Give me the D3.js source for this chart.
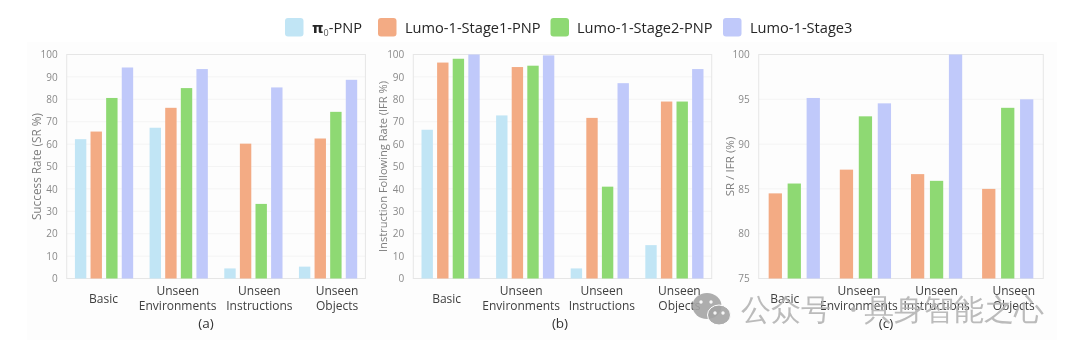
<!DOCTYPE html>
<html>
<head>
<meta charset="utf-8">
<style>
  html, body { margin: 0; padding: 0; background: #fff; }
  svg { display: block; filter: blur(0.35px); }
  text { font-family: "Open Sans", "Noto Sans", sans-serif; }
</style>
<script src="https://cdn.jsdelivr.net/npm/d3@7"></script>
</head>
<body>
<script>
// categories and series names
var categories = ["Basic", "Unseen Environments", "Unseen Instructions", "Unseen Objects"];
var seriesNames = ["pi0", "stage1", "stage2", "stage3"];

// panel (a) success rate
var srPi0 = [62.2, 67.3, 4.5, 5.3];
var srStage1 = [65.6, 76.2, 60.2, 62.5];
var srStage2 = [80.6, 85.0, 33.3, 74.4];
var srStage3 = [94.2, 93.5, 85.3, 88.7];

// panel (b) instruction following rate
var ifrPi0 = [66.4, 72.8, 4.5, 14.9];
var ifrStage1 = [96.4, 94.4, 71.7, 79.0];
var ifrStage2 = [98.1, 95.0, 41.0, 79.0];
var ifrStage3 = [100, 99.6, 87.2, 93.5];

// panel (c) SR / IFR
var ratioStage1 = [84.5, 87.15, 86.65, 85.0];
var ratioStage2 = [85.6, 93.1, 85.9, 94.05];
var ratioStage3 = [95.15, 94.55, 100, 95.0];

var colors = {pi0: "#c1e5f5", stage1: "#f3ab84", stage2: "#8ed973", stage3: "#c0c9fa"};

var width = 1080, height = 353, top_ = 54.5, bottom = 278.5;

var svg = d3.select("body").append("svg")
    .attr("width", width)
    .attr("height", height);

svg.append("rect")
    .attr("x", 27).attr("y", 42)
    .attr("width", 1030).attr("height", 298)
    .attr("fill", "#fdfdfd");

// legend
var legend = [
  {key: "pi0", swatch: 285, text: 312},
  {key: "stage1", swatch: 378, text: 405, label: "Lumo-1-Stage1-PNP"},
  {key: "stage2", swatch: 550.5, text: 577, label: "Lumo-1-Stage2-PNP"},
  {key: "stage3", swatch: 723, text: 750, label: "Lumo-1-Stage3"}
];

legend.forEach(function(d) {
  svg.append("rect")
      .attr("x", d.swatch).attr("y", 18)
      .attr("width", 18.5).attr("height", 18.5)
      .attr("rx", 3)
      .attr("fill", colors[d.key]);
  var t = svg.append("text")
      .attr("x", d.text).attr("y", 33)
      .attr("font-size", 14.6)
      .attr("fill", "#262626");
  if (d.label) {
    t.text(d.label);
  } else {
    t.append("tspan").attr("font-weight", "bold").attr("font-family", "DejaVu Sans").text("π");
    t.append("tspan").attr("font-size", 9).attr("dy", 3).attr("fill", "#555").text("0");
    t.append("tspan").attr("dy", -3).text("-PNP");
  }
});

function drawPanel(p) {
  var x0 = d3.scaleBand()
      .domain(categories)
      .range([p.left, p.right])
      .paddingInner(p.groupPad)
      .paddingOuter(p.groupPad / 2);

  var x1 = d3.scaleBand()
      .domain(p.series.map(function(s) { return s.key; }))
      .range([0, x0.bandwidth()])
      .paddingInner(p.barPad);

  var y = d3.scaleLinear()
      .domain(p.domain)
      .range([bottom, top_]);

  var g = svg.append("g");

  // frame and light grid
  g.append("g")
      .selectAll("line")
      .data(y.ticks(p.tickCount).slice(1, -1))
      .join("line")
      .attr("x1", p.left).attr("x2", p.right)
      .attr("y1", function(d) { return y(d); })
      .attr("y2", function(d) { return y(d); })
      .attr("stroke", "#f4f4f4");

  g.append("rect")
      .attr("x", p.left).attr("y", top_)
      .attr("width", p.right - p.left).attr("height", bottom - top_)
      .attr("fill", "none")
      .attr("stroke", "#e6e6e6");

  // bars
  p.series.forEach(function(s) {
    g.append("g")
        .selectAll("rect")
        .data(s.values)
        .join("rect")
        .attr("x", function(d, i) { return x0(categories[i]) + x1(s.key); })
        .attr("y", function(d) { return y(d); })
        .attr("width", x1.bandwidth())
        .attr("height", function(d) { return y(p.domain[0]) - y(d); })
        .attr("fill", colors[s.key]);
  });

  // y axis
  var yAxis = g.append("g")
      .attr("transform", "translate(" + p.left + ",0)")
      .call(d3.axisLeft(y).ticks(p.tickCount).tickSize(0).tickPadding(9));
  yAxis.select(".domain").remove();
  yAxis.selectAll("text")
      .attr("font-size", 10)
      .attr("font-family", "Open Sans")
      .attr("fill", "#8a8a8a");

  g.append("text")
      .attr("transform", "translate(" + p.titleX + ",166.5) rotate(-90)")
      .attr("text-anchor", "middle")
      .attr("font-size", p.titleSize)
      .attr("fill", "#7f7f7f")
      .text(p.title);

  // category labels, hand shifted like the original
  var xAxis = g.append("g")
      .attr("transform", "translate(0," + bottom + ")")
      .call(d3.axisBottom(x0).tickSize(0));
  xAxis.select(".domain").remove();
  xAxis.selectAll("text").each(function(d, i) {
    var t = d3.select(this).text(null)
        .attr("x", p.labelShift[i])
        .attr("y", 0)
        .attr("dy", null)
        .attr("font-size", 12)
        .attr("font-family", "Open Sans")
        .attr("fill", "#404040");
    var parts = d.split(" ");
    if (parts.length == 1) {
      t.append("tspan").attr("x", p.labelShift[i]).attr("y", 24).text(d);
    } else {
      t.append("tspan").attr("x", p.labelShift[i]).attr("y", 16).text(parts[0]);
      t.append("tspan").attr("x", p.labelShift[i]).attr("y", 31.5).text(parts[1]);
    }
  });

  g.append("text")
      .attr("x", p.capX).attr("y", 328)
      .attr("text-anchor", "middle")
      .attr("font-size", 13.5)
      .attr("fill", "#333")
      .text(p.caption);
}

drawPanel({
  left: 66.7, right: 365.4, domain: [0, 100], tickCount: 10,
  groupPad: 0.22, barPad: 0.27,
  series: [{key: "pi0", values: srPi0}, {key: "stage1", values: srStage1},
           {key: "stage2", values: srStage2}, {key: "stage3", values: srStage3}],
  title: "Success Rate (SR %)", titleX: 41, titleSize: 11.8,
  labelShift: [-0.5, -1, 6, 9], caption: "(a)", capX: 206
});

drawPanel({
  left: 413.3, right: 711.7, domain: [0, 100], tickCount: 10,
  groupPad: 0.22, barPad: 0.27,
  series: [{key: "pi0", values: ifrPi0}, {key: "stage1", values: ifrStage1},
           {key: "stage2", values: ifrStage2}, {key: "stage3", values: ifrStage3}],
  title: "Instruction Following Rate (IFR %)", titleX: 387, titleSize: 11.1,
  labelShift: [-4, -4, 2, 5], caption: "(b)", capX: 560
});

drawPanel({
  left: 758.7, right: 1043.3, domain: [75, 100], tickCount: 5,
  groupPad: 0.28, barPad: 0.3,
  series: [{key: "stage1", values: ratioStage1}, {key: "stage2", values: ratioStage2},
           {key: "stage3", values: ratioStage3}],
  title: "SR / IFR (%)", titleX: 734, titleSize: 11.6,
  labelShift: [-9.5, -6.5, 0, 6], caption: "(c)", capX: 886
});

// watermark
var mark = svg.append("g").attr("fill", "#a4a4a4").attr("fill-opacity", 0.9);
mark.append("ellipse").attr("cx", 707).attr("cy", 306).attr("rx", 14.5).attr("ry", 13);
mark.append("ellipse").attr("cx", 719).attr("cy", 315).attr("rx", 11.5).attr("ry", 10).attr("stroke", "#fff");
[[701, 302], [711, 302], [715, 313], [723, 313]].forEach(function(e) {
  mark.append("circle").attr("cx", e[0]).attr("cy", e[1]).attr("r", 1.7).attr("fill", "#fff");
});
var wm = mark.append("text")
    .attr("y", 320)
    .attr("font-size", 29.5)
    .attr("font-family", "Noto Sans CJK SC")
    .attr("fill", "#b4b4b4");
wm.append("tspan").attr("x", 741).text("公众号");
wm.append("tspan").attr("x", 838).text("・");
wm.append("tspan").attr("x", 864).text("具身智能之心");
</script>
</body>
</html>
